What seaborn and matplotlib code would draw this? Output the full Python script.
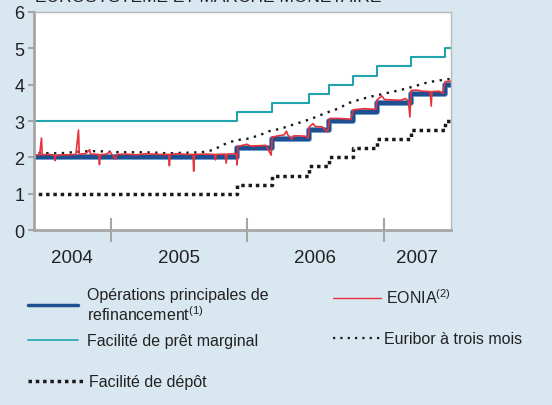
import matplotlib
matplotlib.use("Agg")
import matplotlib.pyplot as plt
import matplotlib.patheffects as pe
from matplotlib.lines import Line2D
import pandas as pd
import seaborn as sns

# key ECB rate dates (last entry = end of chart)
policy_dates = ["2004-06-01", "2005-12-06", "2006-03-08", "2006-06-15", "2006-08-09",
                "2006-10-11", "2006-12-13", "2007-03-14", "2007-06-13", "2007-06-30"]
mro = [2.00, 2.25, 2.50, 2.75, 3.00, 3.25, 3.50, 3.75, 4.00, 4.00]
marginal = [3.00, 3.25, 3.50, 3.75, 4.00, 4.25, 4.50, 4.75, 5.00, 5.00]
deposit = [1.00, 1.25, 1.50, 1.75, 2.00, 2.25, 2.50, 2.75, 3.00, 3.00]

euribor_dates = ["2004-06-01", "2004-07-01", "2004-08-01", "2004-09-01", "2004-10-01",
                 "2004-11-01", "2004-12-01", "2005-01-01", "2005-02-01", "2005-03-01",
                 "2005-04-01", "2005-05-01", "2005-06-01", "2005-07-01", "2005-08-01",
                 "2005-09-01", "2005-10-01", "2005-11-01", "2005-12-01", "2006-01-01",
                 "2006-02-01", "2006-03-01", "2006-04-01", "2006-05-01", "2006-06-01",
                 "2006-07-01", "2006-08-01", "2006-09-01", "2006-10-01", "2006-11-01",
                 "2006-12-01", "2007-01-01", "2007-02-01", "2007-03-01", "2007-04-01",
                 "2007-05-01", "2007-06-01", "2007-06-29"]
euribor = [2.11, 2.12, 2.11, 2.12, 2.15, 2.17, 2.17, 2.15, 2.14, 2.14,
           2.14, 2.13, 2.11, 2.12, 2.13, 2.14, 2.20, 2.36, 2.47, 2.51,
           2.60, 2.72, 2.79, 2.89, 2.99, 3.10, 3.23, 3.34, 3.50, 3.60,
           3.68, 3.75, 3.82, 3.89, 3.98, 4.07, 4.12, 4.16]

eonia_dates = ["2004-06-10", "2004-06-25", "2004-06-30", "2004-07-02", "2004-07-20",
               "2004-08-03", "2004-08-05", "2004-08-07", "2004-08-25", "2004-09-10",
               "2004-09-30", "2004-10-07", "2004-10-09", "2004-10-26", "2004-11-06",
               "2004-11-08", "2004-11-30", "2004-12-02", "2004-12-04", "2004-12-20",
               "2004-12-31", "2005-01-04", "2005-01-15", "2005-01-17", "2005-02-10",
               "2005-03-10", "2005-04-05", "2005-05-10", "2005-06-05", "2005-06-07",
               "2005-06-09", "2005-06-28", "2005-07-20", "2005-08-09", "2005-08-11",
               "2005-08-13", "2005-09-10", "2005-10-06", "2005-10-08", "2005-10-10",
               "2005-11-03", "2005-11-06", "2005-11-08", "2005-11-25", "2005-12-03",
               "2005-12-05", "2005-12-07", "2005-12-31", "2006-01-10", "2006-02-01",
               "2006-02-20", "2006-03-06", "2006-03-09", "2006-03-25", "2006-04-10",
               "2006-04-16", "2006-04-20", "2006-05-01", "2006-05-05", "2006-05-20",
               "2006-06-07", "2006-06-13", "2006-06-16", "2006-06-26", "2006-07-02",
               "2006-07-20", "2006-08-04", "2006-08-10", "2006-09-01", "2006-09-20",
               "2006-10-05", "2006-10-12", "2006-11-10", "2006-11-25", "2006-12-11",
               "2006-12-14", "2006-12-27", "2007-01-03", "2007-01-25", "2007-02-15",
               "2007-02-28", "2007-03-08", "2007-03-12", "2007-03-15", "2007-03-30",
               "2007-04-15", "2007-05-05", "2007-05-08", "2007-05-10", "2007-05-30",
               "2007-06-08", "2007-06-14", "2007-06-29"]
eonia = [2.06, 2.07, 2.53, 2.07, 2.08,
         2.06, 1.91, 2.05, 2.07, 2.07,
         2.08, 2.75, 2.09, 2.10, 2.21,
         2.09, 2.08, 1.80, 2.07, 2.09,
         2.15, 2.08, 1.95, 2.08, 2.09,
         2.07, 2.10, 2.08, 2.08, 1.77,
         2.08, 2.10, 2.08, 2.08, 1.62,
         2.08, 2.09, 2.08, 1.93, 2.08,
         2.09, 1.84, 2.09, 2.10, 2.09,
         1.79, 2.30, 2.36, 2.31, 2.32,
         2.33, 2.06, 2.56, 2.59, 2.62,
         2.72, 2.61, 2.50, 2.59, 2.59,
         2.58, 2.53, 2.84, 2.93, 2.85,
         2.84, 2.70, 3.07, 3.07, 3.06,
         3.04, 3.31, 3.34, 3.33, 3.32,
         3.58, 3.69, 3.59, 3.58, 3.57,
         3.62, 3.55, 3.11, 3.84, 3.85,
         3.82, 3.81, 3.41, 3.81, 3.82,
         3.76, 4.08, 4.10]

years = ["2004", "2005", "2006", "2007"]

bg = "#d9e7f0"
dark = "#222222"
grey = "#a6a6a6"
c_mro = "#1d4f91"
c_eonia = "#e8323c"
c_marg = "#22a3ad"
euribor_dash = (1, 2.3)
deposit_dash = (1, 1.1)

sns.set_theme(style="white")
plt.rcParams["font.family"] = ["Liberation Sans", "DejaVu Sans"]
plt.rcParams["mathtext.fontset"] = "custom"
plt.rcParams["mathtext.rm"] = "Liberation Sans"

rates = pd.DataFrame({"date": pd.to_datetime(policy_dates), "mro": mro,
                      "marginal": marginal, "deposit": deposit})
eur = pd.DataFrame({"date": pd.to_datetime(euribor_dates), "rate": euribor})
eo = pd.DataFrame({"date": pd.to_datetime(eonia_dates), "rate": eonia})

fig = plt.figure(figsize=(5.52, 4.06), dpi=100, facecolor=bg)
ax = fig.add_axes([0.0616, 0.431, 0.7555, 0.537])
ax.set_facecolor("white")

sns.lineplot(data=rates, x="date", y="marginal", ax=ax, color=c_marg, lw=1.5,
             drawstyle="steps-post", estimator=None)
sns.lineplot(data=eur, x="date", y="rate", ax=ax, color="#1a1a1a", lw=1.7,
             estimator=None).lines[-1].set_dashes(euribor_dash)
sns.lineplot(data=rates, x="date", y="deposit", ax=ax, color="#1a1a1a", lw=2.5,
             drawstyle="steps-post", estimator=None).lines[-1].set_dashes(deposit_dash)
sns.lineplot(data=rates, x="date", y="mro", ax=ax, color=c_mro, lw=3,
             drawstyle="steps-post", estimator=None,
             path_effects=[pe.Stroke(linewidth=4.2, foreground="#6f9ccc"), pe.Normal()])
sns.lineplot(data=eo, x="date", y="rate", ax=ax, color=c_eonia, lw=1.2, estimator=None)

x0, x1 = pd.Timestamp("2004-06-10"), pd.Timestamp("2007-06-30")
ax.set_xlim(x0, x1)
ax.set_ylim(0, 6)
ax.set_xlabel("")
ax.set_ylabel("")

bounds = [pd.Timestamp(f"{y}-01-01") for y in years[1:]]
edges = [x0] + bounds + [x1]
mids = [edges[i] + (edges[i + 1] - edges[i]) / 2 for i in range(len(years))]
ax.set_xticks(bounds)
ax.set_xticklabels([""] * len(bounds))
ax.set_xticks(mids, minor=True)
ax.set_xticklabels(years, minor=True)
ax.tick_params(axis="x", which="major", direction="inout", length=17, width=1.5,
               color=grey, bottom=True)
ax.tick_params(axis="x", which="minor", length=0, pad=14, labelsize=13.5,
               labelcolor=dark, bottom=True)
ax.set_yticks(range(7))
ax.tick_params(axis="y", direction="out", length=4, width=1.5, color=grey,
               labelsize=13, labelcolor=dark, left=True, pad=3)

for side in ["left", "bottom"]:
    ax.spines[side].set_color(grey)
    ax.spines[side].set_linewidth(2)
for side in ["top", "right"]:
    ax.spines[side].set_color("#b8b8b8")
    ax.spines[side].set_linewidth(1)

# title sits partly above the top edge, as in the source page
fig.text(0.063, 1 - 2.5 / 406, "EUROSYSTÈME ET MARCHÉ MONÉTAIRE", fontsize=12.5,
         color=dark, va="baseline")


def add_key(handle, label, x_px, y_px, hl, pad):
    fig.legend(handles=[handle], labels=[label], loc="center left",
               bbox_to_anchor=(x_px / 552, 1 - y_px / 406), frameon=False,
               borderpad=0, borderaxespad=0, handlelength=hl, handletextpad=pad,
               fontsize=11.5, labelcolor=dark)


add_key(Line2D([], [], color=c_mro, lw=2.5),
        "Opérations principales de\nrefinancement$^{(1)}$", 28, 306, 3.1, 0.6)
add_key(Line2D([], [], color=c_eonia, lw=1),
        "EONIA$^{(2)}$", 333, 298, 3.0, 0.3)
add_key(Line2D([], [], color=c_marg, lw=1.2),
        "Facilité de prêt marginal", 28, 342, 3.1, 0.6)
add_key(Line2D([], [], color="#1a1a1a", lw=1.6, dashes=euribor_dash),
        "Euribor à trois mois", 333, 340, 3.0, 0.2)
add_key(Line2D([], [], color="#1a1a1a", lw=2.5, dashes=deposit_dash),
        "Facilité de dépôt", 28, 383, 3.6, 0.2)

fig.savefig("out.png", dpi=100, facecolor=bg)
